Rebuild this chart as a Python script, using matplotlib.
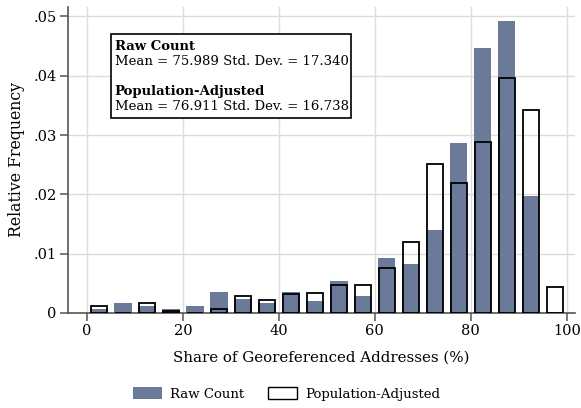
import numpy as np
import matplotlib.pyplot as plt
from matplotlib.patches import Rectangle, Patch

# bin centres (5-point bins)
bin_centers = np.arange(2.5, 100, 5)

raw_count = [0.0007, 0.0017, 0.0011, 0.0007, 0.0011, 0.0035, 0.0023, 0.0017,
             0.0035, 0.0020, 0.0054, 0.0029, 0.0092, 0.0083, 0.0140, 0.0287,
             0.0446, 0.0492, 0.0198, 0.0002]
pop_adjusted = [0.0012, 0.0, 0.0016, 0.0004, 0.0, 0.0006, 0.0029, 0.0021,
                0.0032, 0.0034, 0.0047, 0.0047, 0.0076, 0.0120, 0.0251, 0.0219,
                0.0289, 0.0397, 0.0343, 0.0044]

x_ticks = [0, 20, 40, 60, 80, 100]
y_ticks = [0, 0.01, 0.02, 0.03, 0.04, 0.05]
y_ticklabels = ['0', '.01', '.02', '.03', '.04', '.05']

raw_color = '#6b7a98'

plt.rcParams['font.family'] = ['DejaVu Serif']

fig = plt.figure(figsize=(5.81, 4.08), dpi=100)
ax = fig.add_axes([0.1165, 0.233, 0.874, 0.75])

ax.bar(bin_centers, raw_count, width=3.6, color=raw_color, zorder=2)
ax.bar(bin_centers, pop_adjusted, width=3.3, facecolor='none',
       edgecolor='black', linewidth=1.3, zorder=3)

ax.set_xlim(-4, 101.8)
ax.set_ylim(0, 0.0516)
ax.set_xticks(x_ticks)
ax.set_yticks(y_ticks)
ax.set_yticklabels(y_ticklabels)
ax.grid(True, color='#dcdcdc', linewidth=1.0, zorder=0)
ax.set_axisbelow(True)
for s in ['top', 'right']:
    ax.spines[s].set_visible(False)
for s in ['left', 'bottom']:
    ax.spines[s].set_color('#555555')
    ax.spines[s].set_linewidth(1.2)
ax.tick_params(axis='both', direction='out', length=6, width=1.1,
               color='#555555', labelsize=10.5, pad=2)

ax.set_xlabel('Share of Georeferenced Addresses (%)', fontsize=10.8, labelpad=9)
ax.set_ylabel('Relative Frequency', fontsize=11.3, labelpad=6)

# statistics box
ax.add_patch(Rectangle((0.086, 0.637), 0.472, 0.274, transform=ax.transAxes,
                       facecolor='white', edgecolor='black', linewidth=1.2,
                       zorder=5))
tx = 0.0925
ax.text(tx, 0.870, 'Raw Count', transform=ax.transAxes, fontsize=9.5,
        fontweight='bold', va='center', zorder=6)
ax.text(tx, 0.821, 'Mean = 75.989 Std. Dev. = 17.340', transform=ax.transAxes,
        fontsize=9.5, va='center', zorder=6)
ax.text(tx, 0.723, 'Population-Adjusted', transform=ax.transAxes, fontsize=9.5,
        fontweight='bold', va='center', zorder=6)
ax.text(tx, 0.674, 'Mean = 76.911 Std. Dev. = 16.738', transform=ax.transAxes,
        fontsize=9.5, va='center', zorder=6)

handles = [Patch(facecolor=raw_color, edgecolor='none', label='Raw Count'),
           Patch(facecolor='white', edgecolor='black', linewidth=1.0,
                 label='Population-Adjusted')]
fig.legend(handles=handles, loc='center', bbox_to_anchor=(0.493, 0.035),
           ncol=2, frameon=False, fontsize=9.5, handlelength=2.2,
           handleheight=1.1, columnspacing=1.8, handletextpad=0.6)

fig.savefig('out.png', dpi=100)
